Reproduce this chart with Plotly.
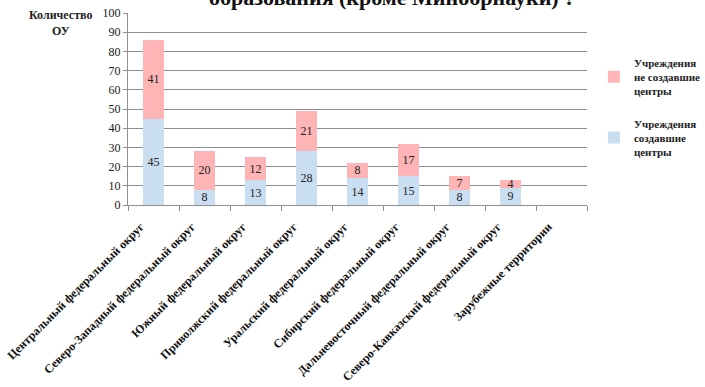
import plotly.graph_objects as go

# Federal districts (x-axis categories)
districts = [
    "Центральный федеральный округ",
    "Северо-Западный федеральный округ",
    "Южный федеральный округ",
    "Приволжский федеральный округ",
    "Уральский федеральный округ",
    "Сибирский федеральный округ",
    "Дальневосточный федеральный округ",
    "Северо-Кавказский федеральный округ",
    "Зарубежные территории",
]

# Institutions that created centres / did not create centres
created = [45, 8, 13, 28, 14, 15, 8, 9, 0]
not_created = [41, 20, 12, 21, 8, 17, 7, 4, 0]

y_ticks = [0, 10, 20, 30, 40, 50, 60, 70, 80, 90, 100]

SERIF = "Liberation Serif"
BLUE = "#c9def0"
PINK = "#ffb5b5"


def labels(values):
    return [str(v) if v else "" for v in values]


fig = go.Figure()
fig.add_trace(go.Bar(
    x=districts, y=created, name="<b>Учреждения<br>создавшие<br>центры</b>",
    marker=dict(color=BLUE, line=dict(width=0)),
    text=labels(created), textposition="inside", insidetextanchor="middle",
    textangle=0, constraintext="none",
    textfont=dict(family=SERIF, size=12, color="#222222"),
    legendgroup="b", legendrank=2,
))
fig.add_trace(go.Bar(
    x=districts, y=not_created, name="<b>Учреждения<br>не создавшие<br>центры</b>",
    marker=dict(color=PINK, line=dict(width=0)),
    text=labels(not_created), textposition="inside", insidetextanchor="middle",
    textangle=0, constraintext="none",
    textfont=dict(family=SERIF, size=12, color="#222222"),
    legendgroup="a", legendrank=1,
))

fig.update_layout(
    width=705, height=387,
    margin=dict(l=128, r=118, t=13, b=182, autoexpand=False),
    barmode="stack", bargap=0.6,
    plot_bgcolor="white", paper_bgcolor="white",
    font=dict(family=SERIF, size=12, color="#222222"),
    uniformtext=dict(minsize=11, mode="show"),
    showlegend=True,
    legend=dict(
        x=1.015, y=0.814, xanchor="left", yanchor="top",
        traceorder="grouped", tracegroupgap=15,
        font=dict(family=SERIF, size=11, color="#222222"),
        itemwidth=30,
    ),
    annotations=[
        dict(
            text="<b>образования (кроме Минобрнауки) ?</b>",
            xref="paper", yref="paper", x=(392 - 128) / 459, y=1,
            xanchor="center", yanchor="bottom", yshift=1, showarrow=False,
            font=dict(family=SERIF, size=22, color="#111111"),
        ),
        dict(
            text="<b>Количество<br>ОУ</b>",
            xref="paper", yref="paper", x=(60 - 128) / 459, y=1.034,
            xanchor="center", yanchor="top", showarrow=False, align="center",
            font=dict(family=SERIF, size=12, color="#222222"),
        ),
    ],
)

fig.update_yaxes(
    range=[0, 100], tickvals=y_ticks, showgrid=True, gridcolor="#8f8f8f", gridwidth=1,
    showline=True, linecolor="#8f8f8f", ticks="outside", ticklen=4, tickcolor="#8f8f8f",
    tickfont=dict(family=SERIF, size=12, color="#222222"), zeroline=False,
)
fig.update_xaxes(
    showline=True, linecolor="#8f8f8f", ticks="outside", ticklen=5, tickcolor="#8f8f8f",
    tickson="boundaries", tickangle=-45, ticklabelshift=-13, ticklabelstandoff=9,
    tickfont=dict(family=SERIF, size=12, color="#111111", weight="bold"),
)

fig.write_html("out.html")
